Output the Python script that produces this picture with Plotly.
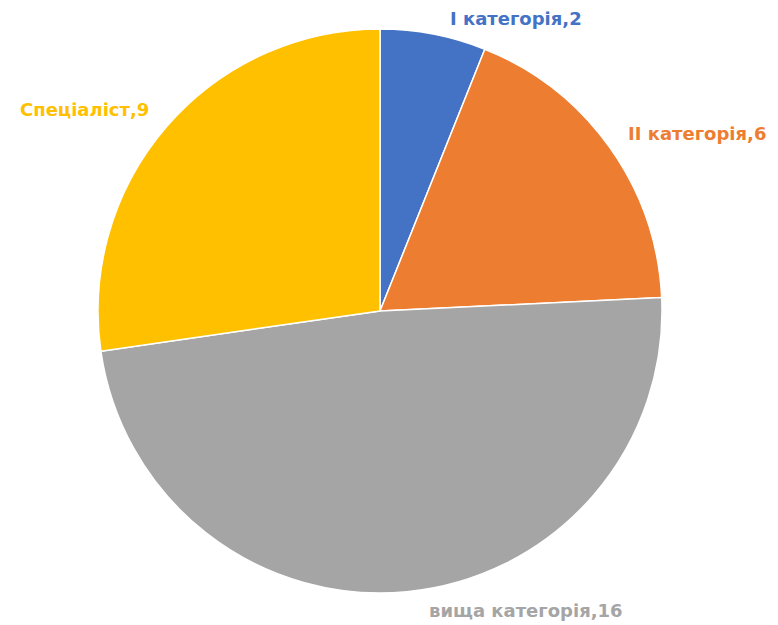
import plotly.graph_objects as go

categories = ["I категорія", "II категорія", "вища категорія", "Спеціаліст"]
values = [2, 6, 16, 9]
colors = ["#4472C4", "#ED7D31", "#A5A5A5", "#FFC000"]

W, H = 778, 625
fig = go.Figure(go.Pie(
    labels=categories,
    values=values,
    sort=False,
    direction="clockwise",
    rotation=0,
    marker=dict(colors=colors, line=dict(color="white", width=1.5)),
    textinfo="none",
    hoverinfo="label+value",
    domain=dict(x=[98/W, 662/W], y=[1-593/H, 1-29/H]),
    showlegend=False,
))

# label positions (pixel centers)
label_pos = [(516, 18), (697, 133), (526, 610), (84, 110)]
for cat, val, col, (px, py) in zip(categories, values, colors, label_pos):
    fig.add_annotation(
        x=px/W, y=1-py/H, xref="paper", yref="paper",
        text=f"<b>{cat},{val}</b>", showarrow=False,
        font=dict(family="DejaVu Sans", size=18, color=col),
        xanchor="center", yanchor="middle",
    )

fig.update_layout(
    width=W, height=H,
    margin=dict(l=0, r=0, t=0, b=0),
    paper_bgcolor="white", plot_bgcolor="white",
)
fig.write_html("out.html", config={"displayModeBar": False},
               post_script="document.body.style.margin='0';document.body.style.overflow='hidden';")
